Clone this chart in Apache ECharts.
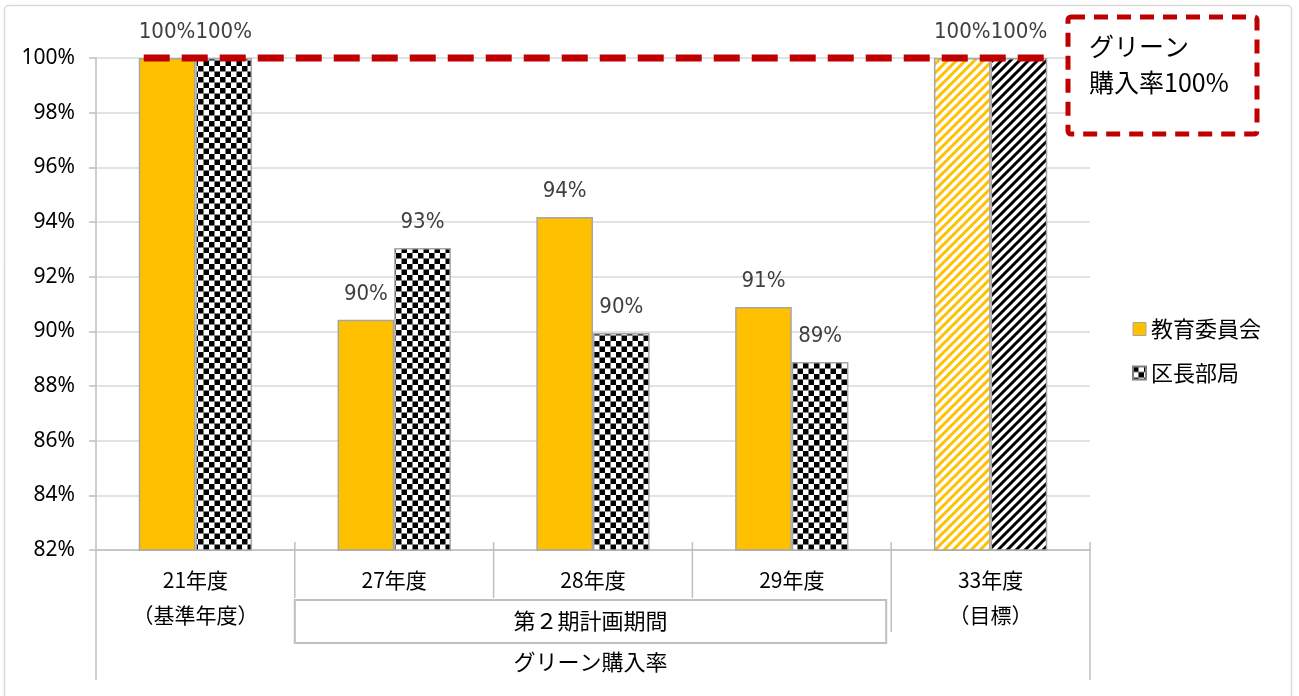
<!DOCTYPE html>
<html>
<head>
<meta charset="utf-8">
<script src="https://cdn.jsdelivr.net/npm/echarts@6/dist/echarts.min.js"></script>
<style>
  html, body { margin: 0; padding: 0; background: #fff; }
  #chart { width: 1299px; height: 696px; }
</style>
</head>
<body>
<div id="chart"></div>
<script>
// Fiscal years on the category axis (first label row)
const categories = ['21年度\n（基準年度）', '27年度', '28年度', '29年度', '33年度\n（目標）'];
// Green purchasing rate (%) by department
const educationBoard = [100, 90.42, 94.18, 90.89, 100];
const mayorOffices = [100, 93.05, 89.94, 88.88, 100];
// Which categories are targets rather than results
const isTarget = [false, false, false, false, true];
const seriesNames = ['教育委員会', '区長部局'];
// Y-axis range (%)
const yMin = 82, yMax = 100, yStep = 2;
// Grouping labels beneath the years
const periodLabel = '第２期計画期間';
const periodRange = [1, 3];
const axisTitle = 'グリーン購入率';
const targetRate = 100;
const noteText = 'グリーン\n購入率100%';

const FONT = '"Noto Sans CJK JP", "Noto Sans", sans-serif';
const NUM_FONT = '"Liberation Sans Narrow", "DejaVu Sans Condensed", "Noto Sans", sans-serif';
const TEXT = '#404040';
const YELLOW = '#FFC000';
const EDGE = '#A6A6A6';
const RED = '#C00000';

function checker() {
  const s = 11, h = 5.5;
  const c = document.createElement('canvas');
  c.width = s; c.height = s;
  const g = c.getContext('2d');
  g.fillStyle = '#fff'; g.fillRect(0, 0, s, s);
  g.fillStyle = '#000';
  g.fillRect(0, 0, h, h); g.fillRect(h, h, h, h);
  return c;
}
function stripes(color) {
  const s = 9;
  const c = document.createElement('canvas');
  c.width = s; c.height = s;
  const g = c.getContext('2d');
  g.fillStyle = '#fff'; g.fillRect(0, 0, s, s);
  g.strokeStyle = color; g.lineWidth = 3;
  g.beginPath();
  g.moveTo(-1, s + 1); g.lineTo(s + 1, -1);
  g.moveTo(-1, 1); g.lineTo(1, -1);
  g.moveTo(s - 1, s + 1); g.lineTo(s + 1, s - 1);
  g.stroke();
  return c;
}
const checkerFill = { image: checker(), repeat: 'repeat' };
const yellowStripe = { image: stripes(YELLOW), repeat: 'repeat' };
const blackStripe = { image: stripes('#000'), repeat: 'repeat' };

function buildData(values, solid, striped) {
  return values.map((v, i) => ({
    value: v,
    itemStyle: { color: isTarget[i] ? striped : solid }
  }));
}

const labelStyle = {
  show: true,
  position: 'top',
  distance: 15,
  color: TEXT,
  fontFamily: NUM_FONT,
  fontSize: 22,
  formatter: p => Math.round(p.value) + '%'
};

const chart = echarts.init(document.getElementById('chart'), null, { renderer: 'canvas' });

chart.setOption({
  backgroundColor: '#fff',
  animation: false,
  textStyle: { fontFamily: FONT },
  grid: { left: 96, right: 209, top: 58, bottom: 146, containLabel: false },
  legend: {
    orient: 'vertical',
    left: 1127,
    top: 313,
    itemWidth: 13,
    itemHeight: 13,
    itemGap: 22,
    icon: 'rect',
    textStyle: { color: '#000', fontSize: 22, fontFamily: FONT },
    data: seriesNames.map((n, i) => ({
      name: n,
      itemStyle: i === 0 ? { color: YELLOW, borderColor: EDGE, borderWidth: 1 }
                         : { color: checkerFill, borderColor: '#7f7f7f', borderWidth: 2 }
    }))
  },
  xAxis: {
    type: 'category',
    data: categories,
    axisLine: { show: true, lineStyle: { color: '#BFBFBF', width: 1.5 } },
    axisTick: { show: false },
    axisLabel: {
      color: '#000', fontSize: 21, fontFamily: FONT, lineHeight: 35, margin: 13,
      interval: 0
    }
  },
  yAxis: {
    type: 'value',
    min: yMin, max: yMax, interval: yStep,
    axisLine: { show: true, lineStyle: { color: '#BFBFBF', width: 1.5 } },
    axisTick: { show: true, length: 7, lineStyle: { color: '#BFBFBF', width: 1.5 } },
    splitLine: { lineStyle: { color: '#D9D9D9', width: 1.5 } },
    axisLabel: {
      color: '#000', fontSize: 21, fontFamily: '"Noto Sans", sans-serif', margin: 21,
      formatter: v => v + '%'
    }
  },
  series: [
    {
      name: seriesNames[0],
      type: 'bar',
      barGap: '0%',
      barCategoryGap: '43%',
      data: buildData(educationBoard, YELLOW, yellowStripe),
      itemStyle: { borderColor: EDGE, borderWidth: 1.5 },
      label: labelStyle
    },
    {
      name: seriesNames[1],
      type: 'bar',
      data: buildData(mayorOffices, checkerFill, blackStripe),
      itemStyle: { borderColor: EDGE, borderWidth: 1.5 },
      label: labelStyle
    }
  ]
});

// Category dividers, grouping box, target line and note, placed from the chart's own layout
function overlay() {
  const x0 = chart.convertToPixel({ xAxisIndex: 0 }, 0);
  const x1 = chart.convertToPixel({ xAxisIndex: 0 }, 1);
  const band = x1 - x0;
  const edge = i => x0 - band / 2 + band * i;
  const yBase = chart.convertToPixel({ yAxisIndex: 0 }, yMin);
  const yTarget = chart.convertToPixel({ yAxisIndex: 0 }, targetRate);
  const n = categories.length;

  const firstBar = chart.getModel().getSeriesByIndex(0).getData().getItemLayout(0);
  const lastBar = chart.getModel().getSeriesByIndex(1).getData().getItemLayout(n - 1);

  const lineStyle = { stroke: '#BFBFBF', lineWidth: 1.5 };
  const els = [];
  // outer frame of the chart
  els.push({ type: 'rect', shape: { x: 4.5, y: 5.5, width: 1287, height: 720, r: 4 },
    style: { fill: null, stroke: '#D9D9D9', lineWidth: 1.5 }, silent: true, z: 0 });
  // dividers between fiscal years
  for (let i = 0; i <= n; i++) {
    let bottom;
    if (i === 0 || i === n) bottom = yBase + 130;
    else if (i === periodRange[1] + 1) bottom = yBase + 82;
    else bottom = yBase + 48;
    els.push({ type: 'line', shape: { x1: edge(i), y1: i === 0 ? yBase : yBase - 8, x2: edge(i), y2: bottom },
      style: lineStyle, silent: true });
  }
  // period grouping box
  const bx0 = edge(periodRange[0]);
  const bx1 = edge(periodRange[1] + 1) - 5;
  els.push({ type: 'rect', shape: { x: bx0, y: yBase + 50, width: bx1 - bx0, height: 43 },
    style: { fill: '#fff', stroke: '#BFBFBF', lineWidth: 2 }, silent: true });
  els.push({ type: 'text', x: (bx0 + bx1) / 2, y: yBase + 71,
    style: { text: periodLabel, fill: '#000', font: '22px ' + FONT, align: 'center', verticalAlign: 'middle' }, silent: true });
  // axis title under everything
  els.push({ type: 'text', x: (bx0 + bx1) / 2, y: yBase + 112,
    style: { text: axisTitle, fill: '#000', font: '22px ' + FONT, align: 'center', verticalAlign: 'middle' }, silent: true });
  // 100% target line across the bars
  els.push({ type: 'line', shape: { x1: firstBar.x + 5, y1: yTarget, x2: lastBar.x + lastBar.width + 2, y2: yTarget },
    style: { stroke: RED, lineWidth: 7, lineDash: [26, 12] }, z: 10, silent: true });
  // note box
  els.push({ type: 'rect', shape: { x: 1068, y: 17, width: 189, height: 117, r: 3 },
    style: { fill: '#fff', stroke: RED, lineWidth: 5, lineDash: [14, 9] }, z: 10, silent: true });
  els.push({ type: 'text', x: 1089, y: 28,
    style: { text: noteText, fill: '#000', font: '25px ' + FONT, lineHeight: 36 }, z: 11, silent: true });

  chart.setOption({ graphic: { elements: els } });
}
overlay();
</script>
</body>
</html>
